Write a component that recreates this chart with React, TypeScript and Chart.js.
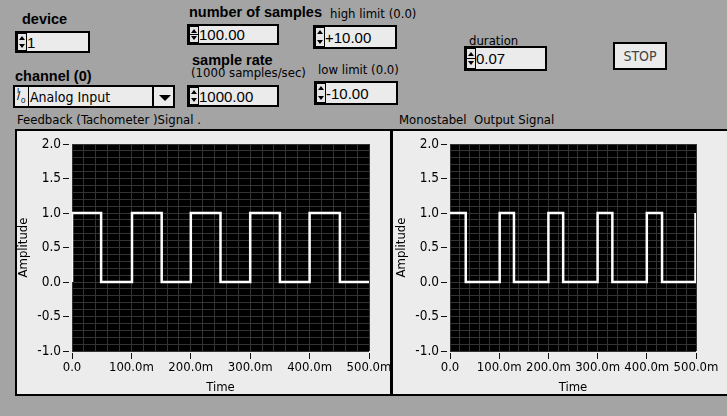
import React, { useEffect, useRef } from 'react';
import { Chart, registerables } from 'chart.js';

Chart.register(...registerables);

// ---- chart data ----
const TIME_LABEL_STEP = 100; // ms between labelled ticks
const TIME_MIN = 0;
const TIME_MAX = 500;
const AMP_MIN = -1;
const AMP_MAX = 2;

const feedbackTime = [0, 0, 49, 49, 101, 101, 151, 151, 200, 200, 250, 250, 300, 300, 350, 350, 400, 400, 451, 451, 500];
const feedbackAmp = [0, 1, 1, 0, 0, 1, 1, 0, 0, 1, 1, 0, 0, 1, 1, 0, 0, 1, 1, 0, 0];

const monoTime = [0, 32, 32, 101, 101, 130, 130, 200, 200, 230, 230, 300, 300, 330, 330, 400, 400, 431, 431, 499, 499];
const monoAmp = [1, 1, 0, 0, 1, 1, 0, 0, 1, 1, 0, 0, 1, 1, 0, 0, 1, 1, 0, 0, 1];

const chartTitles = ['Feedback (Tachometer )Signal .', 'Monostabel  Output Signal'];
const yTitle = 'Amplitude';
const xTitle = 'Time';

// ---- front panel controls ----
const boldLabels = ['device', 'number of samples', 'sample rate', 'channel (0)'];
const smallLabels = ['(1000 samples/sec)', 'high limit (0.0)', 'low limit (0.0)', 'duration'];
const controlValues = ['1', '100.00', '1000.00', '+10.00', '-10.00', '0.07'];
const channelValue = 'Analog Input';
const stopText = 'STOP';

const NARROW = '"DejaVu Sans Condensed", "Liberation Sans Narrow", "Liberation Sans", Arial, sans-serif';
const SANS = '"Liberation Sans", Arial, sans-serif';
const BG = '#a4a4a4';
const PANEL = '#ececec';

const plotBg = {
  id: 'plotBg',
  beforeDraw(chart: any) {
    const { ctx, chartArea: a } = chart;
    ctx.save();
    ctx.fillStyle = '#000';
    ctx.fillRect(a.left, a.top, a.right - a.left, a.bottom - a.top);
    ctx.restore();
  },
};

function isMultiple(v: number, step: number) {
  const r = v / step;
  return Math.abs(r - Math.round(r)) < 1e-6;
}

function makeConfig(times: number[], amps: number[], yWidth: number, rightPad: number, yTitlePad: number): any {
  const tickFont = { family: NARROW, size: 13.5, lineHeight: 1.2 };
  const titleFont = { family: NARROW, size: 13, lineHeight: 1 };
  return {
    type: 'line',
    data: {
      datasets: [
        {
          data: times.map((t, i) => ({ x: t, y: amps[i] })),
          borderColor: '#ffffff',
          borderWidth: 2.5,
          pointRadius: 0,
          tension: 0,
          fill: false,
        },
      ],
    },
    options: {
      animation: false,
      responsive: false,
      maintainAspectRatio: false,
      events: [],
      plugins: { legend: { display: false }, tooltip: { enabled: false } },
      layout: { padding: { top: 13, right: rightPad, left: 0, bottom: 0 } },
      scales: {
        x: {
          type: 'linear',
          min: TIME_MIN,
          max: TIME_MAX,
          border: { display: false },
          ticks: {
            stepSize: 20,
            autoSkip: false,
            maxRotation: 0,
            minRotation: 0,
            padding: 1,
            color: '#000',
            font: { ...tickFont, size: 13 },
            callback: (v: number) =>
              isMultiple(v, TIME_LABEL_STEP) ? (v === 0 ? '0.0' : v.toFixed(1) + 'm') : '',
          },
          grid: {
            color: '#333333',
            lineWidth: 1,
            tickLength: 8,
            tickWidth: 1,
            tickColor: (c: any) => (c.tick && isMultiple(c.tick.value, TIME_LABEL_STEP) ? '#111' : 'rgba(0,0,0,0)'),
            tickBorderDash: [6, 100],
            tickBorderDashOffset: 104,
          },
          title: { display: true, text: xTitle, color: '#000', font: titleFont, padding: 0 },
          afterFit: (s: any) => {
            s.height = 43;
            s.paddingLeft = 0;
            s.paddingRight = 0;
          },
        },
        y: {
          min: AMP_MIN,
          max: AMP_MAX,
          border: { display: false },
          ticks: {
            stepSize: 0.1,
            autoSkip: false,
            padding: 2,
            color: '#000',
            font: tickFont,
            callback: (v: number) => (isMultiple(v, 0.5) ? (Math.round(v * 10) / 10).toFixed(1) : ''),
          },
          grid: {
            color: '#333333',
            lineWidth: 1,
            tickLength: 9,
            tickWidth: 1,
            tickColor: (c: any) => (c.tick && isMultiple(c.tick.value, 0.5) ? '#111' : 'rgba(0,0,0,0)'),
            tickBorderDash: [6, 100],
            tickBorderDashOffset: 0,
          },
          title: { display: true, text: yTitle, color: '#000', font: titleFont, padding: { top: yTitlePad, bottom: 0 } },
          afterFit: (s: any) => {
            s.width = yWidth;
            s.paddingTop = 0;
            s.paddingBottom = 0;
          },
        },
      },
    },
    plugins: [plotBg],
  };
}

function Graph(props: { left: number; width: number; times: number[]; amps: number[]; yWidth: number; rightPad: number; yTitlePad: number }) {
  const ref = useRef<HTMLCanvasElement>(null);
  useEffect(() => {
    if (!ref.current) return;
    const chart = new Chart(ref.current, makeConfig(props.times, props.amps, props.yWidth, props.rightPad, props.yTitlePad));
    return () => chart.destroy();
  }, []);
  return (
    <canvas
      ref={ref}
      width={props.width}
      height={263}
      style={{ position: 'absolute', left: props.left, top: 131, width: props.width, height: 263 }}
    />
  );
}

function Label(p: { x: number; y: number; text: string; bold?: boolean; size?: number }) {
  return (
    <div
      style={{
        position: 'absolute',
        left: p.x,
        top: p.y,
        fontFamily: p.bold ? SANS : NARROW,
        fontWeight: p.bold ? 700 : 400,
        fontSize: p.size || 13,
        lineHeight: 1,
        whiteSpace: 'pre',
        color: '#000',
      }}
    >
      {p.text}
    </div>
  );
}

function Tri(p: { up: boolean }) {
  return (
    <div
      style={{
        width: 0,
        height: 0,
        borderLeft: '3px solid transparent',
        borderRight: '3px solid transparent',
        [p.up ? 'borderBottom' : 'borderTop']: '4px solid #000',
      }}
    />
  );
}

function NumCtl(p: { x: number; y: number; w: number; h: number; value: string }) {
  const cell: React.CSSProperties = {
    position: 'absolute',
    left: 1,
    width: 8,
    background: '#e6e6e6',
    display: 'flex',
    alignItems: 'center',
    justifyContent: 'center',
  };
  return (
    <div
      style={{
        position: 'absolute',
        left: p.x,
        top: p.y,
        width: p.w,
        height: p.h,
        boxSizing: 'border-box',
        border: '2px solid #000',
        background: '#ebebeb',
      }}
    >
      <div style={{ position: 'absolute', left: 0, top: 0, width: 10, bottom: 0, background: '#000' }}>
        <div style={{ ...cell, top: 1, bottom: '52%' }}>
          <Tri up />
        </div>
        <div style={{ ...cell, top: '52%', bottom: 1 }}>
          <Tri up={false} />
        </div>
      </div>
      <div
        style={{
          position: 'absolute',
          left: 10,
          top: 0,
          bottom: 0,
          display: 'flex',
          alignItems: 'center',
          fontFamily: SANS,
          fontSize: 15,
          color: '#000',
          whiteSpace: 'nowrap',
        }}
      >
        {p.value}
      </div>
    </div>
  );
}

export default function App() {
  return (
    <div
      style={{
        position: 'absolute',
        left: 0,
        top: 0,
        width: 727,
        height: 416,
        background: BG,
        overflow: 'hidden',
      }}
    >
      <Label x={22} y={12} text={boldLabels[0]} bold size={14.5} />
      <Label x={189} y={5} text={boldLabels[1]} bold size={14.5} />
      <Label x={192} y={53} text={boldLabels[2]} bold size={14.5} />
      <Label x={15} y={69} text={boldLabels[3]} bold size={14.5} />

      <Label x={191} y={66} text={smallLabels[0]} />
      <Label x={330} y={7} text={smallLabels[1]} />
      <Label x={318} y={63} text={smallLabels[2]} />
      <Label x={469} y={34} text={smallLabels[3]} />

      <NumCtl x={15} y={31} w={75} h={22} value={controlValues[0]} />
      <NumCtl x={187} y={24} w={92} h={21} value={controlValues[1]} />
      <NumCtl x={187} y={85} w={92} h={22} value={controlValues[2]} />
      <NumCtl x={313} y={25} w={84} h={24} value={controlValues[3]} />
      <NumCtl x={314} y={81} w={84} h={24} value={controlValues[4]} />
      <NumCtl x={464} y={46} w={83} h={25} value={controlValues[5]} />

      {/* channel ring */}
      <div
        style={{
          position: 'absolute',
          left: 13,
          top: 85,
          width: 162,
          height: 23,
          boxSizing: 'border-box',
          border: '2px solid #000',
          background: '#ebebeb',
        }}
      >
        <div style={{ position: 'absolute', left: 0, top: 0, width: 13, bottom: 0, borderRight: '1px solid #000', fontFamily: SANS, fontSize: 8, lineHeight: 1 }}>
          <span style={{ position: 'absolute', left: 2, top: 0 }}>I</span>
          <span style={{ position: 'absolute', left: 2, top: 3, fontSize: 12 }}>/</span>
          <span style={{ position: 'absolute', left: 6, top: 10 }}>0</span>
        </div>
        <div style={{ position: 'absolute', left: 15, top: 0, bottom: 0, display: 'flex', alignItems: 'center', fontFamily: NARROW, fontSize: 14, whiteSpace: 'nowrap' }}>
          {channelValue}
        </div>
        <div style={{ position: 'absolute', left: 137, top: 0, bottom: 0, width: 2, background: '#000' }} />
        <div style={{ position: 'absolute', left: 144, top: 8 }}>
          <div style={{ width: 0, height: 0, borderLeft: '6px solid transparent', borderRight: '6px solid transparent', borderTop: '6px solid #000' }} />
        </div>
      </div>

      {/* STOP button */}
      <div
        style={{
          position: 'absolute',
          left: 613,
          top: 42,
          width: 54,
          height: 28,
          boxSizing: 'border-box',
          border: '2px solid #000',
          background: '#ebebeb',
          display: 'flex',
          alignItems: 'center',
          justifyContent: 'center',
          fontFamily: NARROW,
          fontSize: 14,
          color: '#444',
        }}
      >
        {stopText}
      </div>

      <Label x={17} y={113} text={chartTitles[0]} />
      <Label x={399} y={113} text={chartTitles[1]} />

      {/* graph panels */}
      <div
        style={{
          position: 'absolute',
          left: 15,
          top: 129,
          width: 377,
          height: 267,
          boxSizing: 'border-box',
          border: '2px solid #000',
          background: PANEL,
        }}
      />
      <div
        style={{
          position: 'absolute',
          left: 391,
          top: 129,
          width: 340,
          height: 267,
          boxSizing: 'border-box',
          border: '2px solid #000',
          background: PANEL,
        }}
      />
      <Graph left={17} width={373} times={feedbackTime} amps={feedbackAmp} yWidth={55} rightPad={21} yTitlePad={0.5} />
      <Graph left={393} width={334} times={monoTime} amps={monoAmp} yWidth={57} rightPad={31} yTitlePad={2.5} />
    </div>
  );
}
